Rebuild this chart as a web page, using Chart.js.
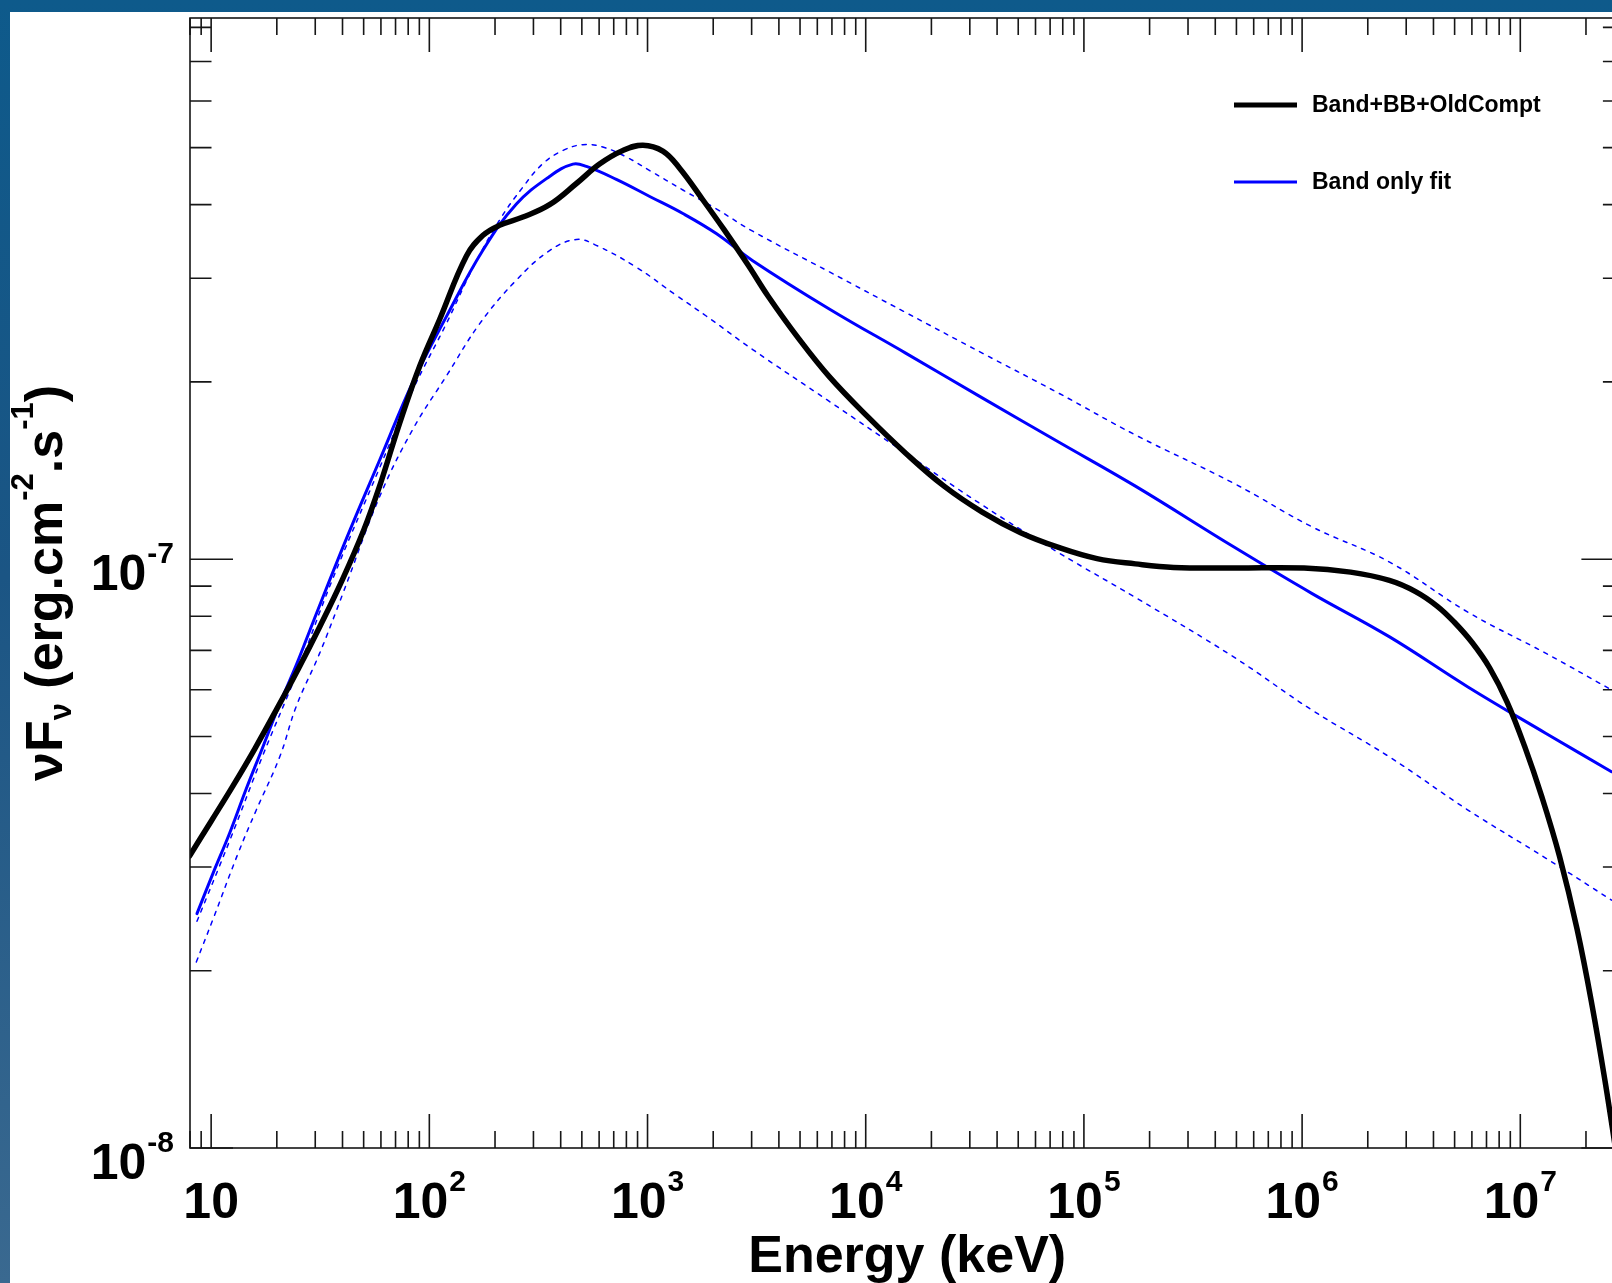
<!DOCTYPE html>
<html>
<head>
<meta charset="utf-8">
<title>Band+BB+OldCompt vs Band only fit</title>
<script src="https://cdn.jsdelivr.net/npm/chart.js@4.4.1/dist/chart.umd.min.js"></script>
<style>
  html, body { margin: 0; padding: 0; width: 1612px; height: 1283px; overflow: hidden; }
  body { position: relative; background: linear-gradient(180deg, #0e5a8b 0%, #1b5584 45%, #3a6990 100%); }
  #plot { position: absolute; left: 10px; top: 12px; width: 1640px; height: 1271px; background: #fff; }
  canvas { display: block; }
</style>
</head>
<body>
<div id="plot"><canvas id="spectrum" width="1640" height="1271"></canvas></div>
<script>
// values, as log10(E / keV) and log10(nuFnu / erg cm^-2 s^-1)
const bbLogE = [0.901, 1.0, 1.1, 1.2, 1.3, 1.4, 1.5, 1.6, 1.7, 1.772, 1.864, 1.956, 2.047, 2.17,
  2.246, 2.322, 2.429, 2.551, 2.674, 2.78, 2.887, 2.979, 3.07, 3.147, 3.254, 3.35, 3.46, 3.552, 3.692, 3.833,
  4.009, 4.183, 4.359, 4.534, 4.71, 4.884, 5.06, 5.236, 5.411, 5.686, 6.009, 6.222, 6.40, 6.52, 6.62, 6.70, 6.78,
  6.86, 6.94, 7.02, 7.10, 7.18, 7.26, 7.33, 7.39, 7.44];
const bbLogFlux = [-7.504, -7.445, -7.385, -7.322, -7.255, -7.186, -7.113, -7.036, -6.950, -6.876, -6.769, -6.672,
  -6.593, -6.485, -6.450, -6.433, -6.419, -6.398, -6.362, -6.329, -6.306, -6.297, -6.307, -6.336, -6.390, -6.440,
  -6.500, -6.553, -6.625, -6.690, -6.758, -6.820, -6.876, -6.920, -6.955, -6.980, -6.999, -7.008, -7.014, -7.015,
  -7.015, -7.022, -7.036, -7.055, -7.080, -7.108, -7.142, -7.185, -7.243, -7.318, -7.405, -7.505, -7.628, -7.760,
  -7.890, -8.01];

const bandLogE = [0.935, 1.008, 1.085, 1.161, 1.237, 1.314, 1.39, 1.467, 1.62, 1.772, 1.925, 2.078, 2.246, 2.399,
  2.551, 2.658, 2.72, 2.857, 3.01, 3.162, 3.315, 3.482, 3.833, 4.183, 4.534, 4.884, 5.236, 5.686, 6.044, 6.401,
  6.76, 7.118, 7.418];
const bandLogFlux = [-7.602, -7.534, -7.465, -7.390, -7.319, -7.246, -7.180, -7.107, -6.965, -6.832, -6.699, -6.588,
  -6.475, -6.397, -6.350, -6.329, -6.333, -6.355, -6.384, -6.413, -6.447, -6.493, -6.575, -6.650, -6.726, -6.801,
  -6.876, -6.979, -7.058, -7.132, -7.217, -7.296, -7.361];

const upperLogE = [0.935, 1.085, 1.237, 1.39, 1.55, 1.772, 1.925, 2.078, 2.2, 2.322, 2.429, 2.521, 2.612, 2.704,
  2.795, 2.903, 3.01, 3.162, 3.315, 3.482, 3.833, 4.183, 4.534, 4.884, 5.236, 5.686, 6.045, 6.401, 6.76, 7.118, 7.418];
const upperLogFlux = [-7.615, -7.478, -7.333, -7.196, -7.040, -6.845, -6.712, -6.600, -6.505, -6.424, -6.368, -6.328,
  -6.306, -6.296, -6.300, -6.317, -6.340, -6.373, -6.405, -6.443, -6.512, -6.581, -6.650, -6.718, -6.789, -6.871,
  -6.945, -7.005, -7.090, -7.160, -7.222];

const lowerLogE = [0.932, 1.008, 1.123, 1.207, 1.314, 1.39, 1.497, 1.604, 1.772, 1.925, 2.078, 2.231, 2.399, 2.551,
  2.674, 2.765, 2.948, 3.132, 3.269, 3.482, 3.833, 4.183, 4.534, 4.884, 5.236, 5.686, 6.044, 6.401, 6.76, 7.118, 7.418];
const lowerLogFlux = [-7.684, -7.612, -7.500, -7.426, -7.336, -7.250, -7.160, -7.058, -6.894, -6.779, -6.689, -6.600,
  -6.526, -6.476, -6.457, -6.467, -6.504, -6.552, -6.587, -6.644, -6.732, -6.820, -6.908, -6.989, -7.065, -7.166,
  -7.256, -7.336, -7.426, -7.508, -7.579];

// axes
const xMin = 8, xMax = 3e7;
const yMin = 1e-8, yMax = 8.3e-7;
const xMajorTicks = [10, 1e2, 1e3, 1e4, 1e5, 1e6, 1e7];
const xTickExp = ['', '2', '3', '4', '5', '6', '7'];
const yMajorTicks = [1e-8, 1e-7];
const yTickExp = ['-8', '-7'];

const FONT = '"Liberation Sans", Arial, Helvetica, sans-serif';

function toPoints(logE, logF) {
  return logE.map((v, i) => ({ x: 10 ** v, y: 10 ** logF[i] }));
}

function minorTicks(lo, hi) {
  const out = [];
  for (let e = Math.floor(Math.log10(lo)) - 1; e <= Math.ceil(Math.log10(hi)); e++) {
    for (let m = 2; m <= 9; m++) {
      const v = m * Math.pow(10, e);
      if (v >= lo * 0.999 && v <= hi * 1.001) out.push(v);
    }
  }
  return out;
}
const xMinorTicks = minorTicks(xMin, xMax);
const yMinorTicks = minorTicks(yMin, yMax);

// "10" with a raised exponent
function powerLabel(ctx, exp, x, baseY, align) {
  ctx.font = 'bold 50px ' + FONT;
  const wb = ctx.measureText('10').width;
  ctx.font = 'bold 30px ' + FONT;
  const we = exp ? ctx.measureText(exp).width + 1 : 0;
  const left = align === 'center' ? x - (wb + we) / 2 : x - (wb + we);
  ctx.textAlign = 'left';
  ctx.textBaseline = 'alphabetic';
  ctx.font = 'bold 50px ' + FONT;
  ctx.fillText('10', left, baseY);
  if (exp) {
    ctx.font = 'bold 30px ' + FONT;
    ctx.fillText(exp, left + wb + 1, baseY - 27);
  }
}

const rootFrame = {
  id: 'rootFrame',
  afterDatasetsDraw(chart) {
    const { ctx, chartArea: a, scales: { x, y } } = chart;
    ctx.save();
    ctx.strokeStyle = '#161616';
    ctx.lineWidth = 1.6;
    ctx.strokeRect(a.left, a.top, a.right - a.left, a.bottom - a.top);

    // ticks on all four sides, pointing inwards
    ctx.beginPath();
    const xt = (v, len) => {
      const px = x.getPixelForValue(v);
      ctx.moveTo(px, a.bottom); ctx.lineTo(px, a.bottom - len);
      ctx.moveTo(px, a.top); ctx.lineTo(px, a.top + len);
    };
    const yt = (v, len) => {
      const py = y.getPixelForValue(v);
      ctx.moveTo(a.left, py); ctx.lineTo(a.left + len, py);
      ctx.moveTo(a.right, py); ctx.lineTo(a.right - len, py);
    };
    xMajorTicks.forEach(v => xt(v, 34));
    xMinorTicks.forEach(v => xt(v, 17));
    yMajorTicks.forEach(v => yt(v, 43));
    yMinorTicks.forEach(v => yt(v, 21.5));
    ctx.stroke();

    // tick labels
    ctx.fillStyle = '#000';
    xMajorTicks.forEach((v, i) => powerLabel(ctx, xTickExp[i], x.getPixelForValue(v), a.bottom + 70, 'center'));
    yMajorTicks.forEach((v, i) => powerLabel(ctx, yTickExp[i], a.left - 16, y.getPixelForValue(v) + 31, 'right'));

    // x title
    ctx.font = 'bold 52px ' + FONT;
    ctx.textAlign = 'center';
    ctx.textBaseline = 'alphabetic';
    ctx.fillText('Energy (keV)', (a.left + a.right) / 2, a.bottom + 124);

    // y title, rotated, with sub/superscripts
    const parts = [
      { t: 'ν', s: 52, dy: 0 }, { t: 'F', s: 52, dy: 0 }, { t: 'ν', s: 31, dy: 9 },
      { t: ' (erg.cm', s: 52, dy: 0 }, { t: '-2', s: 31, dy: -29 }, { t: '.s', s: 52, dy: 0 },
      { t: '-1', s: 31, dy: -29 }, { t: ')', s: 52, dy: 0 }
    ];
    let total = 0;
    parts.forEach(p => { ctx.font = 'bold ' + p.s + 'px ' + FONT; p.w = ctx.measureText(p.t).width; total += p.w; });
    ctx.save();
    ctx.translate(52, (a.top + a.bottom) / 2);
    ctx.rotate(-Math.PI / 2);
    ctx.textAlign = 'left';
    let cx = -total / 2;
    parts.forEach(p => {
      ctx.font = 'bold ' + p.s + 'px ' + FONT;
      ctx.fillText(p.t, cx, p.dy);
      cx += p.w;
    });
    ctx.restore();

    // legend (first two datasets)
    const rows = [93, 170];
    chart.data.datasets.slice(0, 2).forEach((ds, i) => {
      ctx.strokeStyle = ds.borderColor;
      ctx.lineWidth = i === 0 ? 5 : 3;
      ctx.setLineDash([]);
      ctx.beginPath();
      ctx.moveTo(1224, rows[i]);
      ctx.lineTo(1287, rows[i]);
      ctx.stroke();
      ctx.fillStyle = '#000';
      ctx.font = 'bold 23px ' + FONT;
      ctx.textAlign = 'left';
      ctx.textBaseline = 'middle';
      ctx.fillText(ds.label, 1302, rows[i] + 1);
    });
    ctx.restore();
  }
};

new Chart(document.getElementById('spectrum'), {
  type: 'line',
  data: {
    datasets: [
      { label: 'Band+BB+OldCompt', data: toPoints(bbLogE, bbLogFlux), borderColor: '#000000', borderWidth: 5.5 },
      { label: 'Band only fit', data: toPoints(bandLogE, bandLogFlux), borderColor: '#0000ff', borderWidth: 3 },
      { label: 'Band upper', data: toPoints(upperLogE, upperLogFlux), borderColor: '#0000ff', borderWidth: 1.5, borderDash: [4, 6] },
      { label: 'Band lower', data: toPoints(lowerLogE, lowerLogFlux), borderColor: '#0000ff', borderWidth: 1.5, borderDash: [4, 6] }
    ]
  },
  options: {
    responsive: false,
    animation: false,
    events: [],
    layout: { padding: { left: 180, top: 6, right: 25.6, bottom: 135 } },
    elements: {
      point: { radius: 0 },
      line: { tension: 0.4, fill: false, borderCapStyle: 'round', borderJoinStyle: 'round' }
    },
    scales: {
      x: { type: 'logarithmic', min: xMin, max: xMax, display: false },
      y: { type: 'logarithmic', min: yMin, max: yMax, display: false }
    },
    plugins: { legend: { display: false }, tooltip: { enabled: false }, title: { display: false } }
  },
  plugins: [rootFrame]
});
</script>
</body>
</html>
